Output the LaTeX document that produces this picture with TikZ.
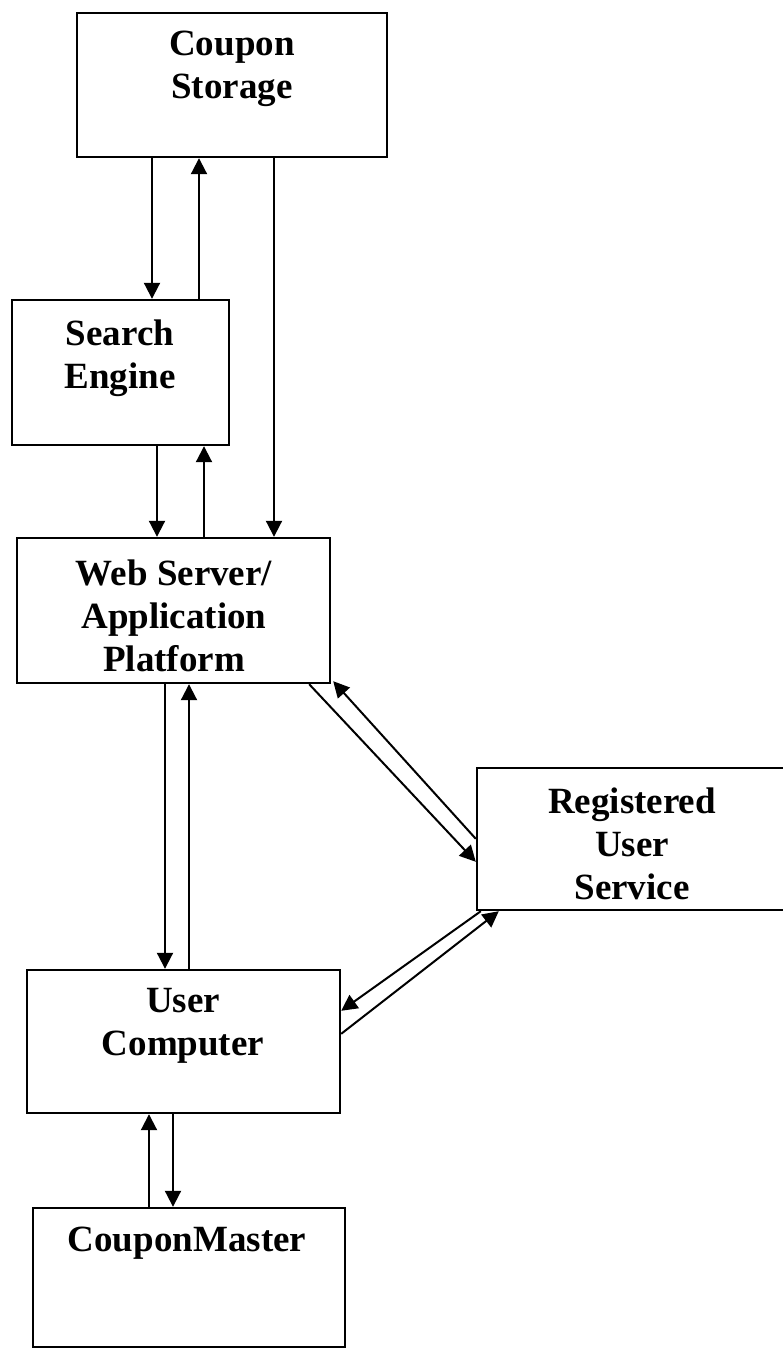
\documentclass[tikz,border=0pt]{standalone}
\usepackage{fontspec}
\setmainfont{Liberation Serif}
\usetikzlibrary{arrows.meta}
\tikzset{
  box/.style={draw=black, line width=2.4pt, fill=none, inner sep=0pt, rectangle},
  lbl/.style={anchor=north, inner sep=0pt, align=center, font=\fontsize{37}{43}\selectfont\bfseries},
  arr/.style={line width=2pt, -{Triangle[length=16pt,width=16pt]}}
}
\begin{document}
\begin{tikzpicture}[x=1pt,y=-1pt]
\useasboundingbox (0,0) rectangle (783,1351);
% boxes
\node[box, minimum width=310pt, minimum height=144pt] (cs) at (232,85) {};
\node[box, minimum width=217pt, minimum height=145pt] (se) at (120.5,372.5) {};
\node[box, minimum width=313pt, minimum height=145pt] (web) at (173.5,610.5) {};
\node[box, minimum width=320pt, minimum height=142pt] (rus) at (637,839) {};
\node[box, minimum width=313pt, minimum height=143pt] (uc) at (183.5,1041.5) {};
\node[box, minimum width=312pt, minimum height=139pt] (cm) at (189,1277.5) {};
% labels
\node[lbl] (csT) at (232,31) {Coupon\\Storage};
\node[lbl] (seT) at (120,320) {Search\\Engine};
\node[lbl] (webT) at (174,560) {Web Server/\\Application\\Platform};
\node[lbl] (rusT) at (632,788) {Registered\\User\\Service};
\node[lbl] (ucT) at (183,988) {User\\Computer};
\node[lbl] (cmT) at (187,1227) {CouponMaster};
% vertical connectors
\draw[arr] (cs.south -| 152,0) -- (se.north -| 152,0);
\draw[arr] (se.north -| 199,0) -- (cs.south -| 199,0);
\draw[arr] (cs.south -| 274,0) -- (web.north -| 274,0);
\draw[arr] (se.south -| 157,0) -- (web.north -| 157,0);
\draw[arr] (web.north -| 204,0) -- (se.south -| 204,0);
\draw[arr] (web.south -| 165,0) -- (uc.north -| 165,0);
\draw[arr] (uc.north -| 189,0) -- (web.south -| 189,0);
\draw[arr] (uc.south -| 173,0) -- (cm.north -| 173,0);
\draw[arr] (cm.north -| 149,0) -- (uc.south -| 149,0);
% diagonal connectors
\draw[arr] ([xshift=-22pt]web.south east) -- ([yshift=-95pt]rus.north west);
\draw[arr] ([yshift=-72pt]rus.north west) -- ([xshift=2pt,yshift=3pt]web.south east);
\draw[arr] ([yshift=-65pt]uc.north east) -- ([xshift=23pt]rus.south west);
\draw[arr] ([xshift=5pt]rus.south west) -- ([yshift=-42pt]uc.north east);
\end{tikzpicture}
\end{document}
